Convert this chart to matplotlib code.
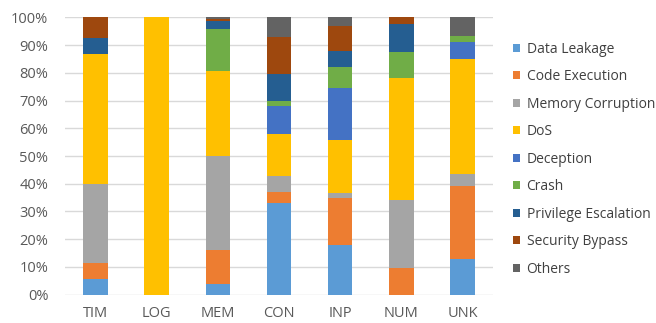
import matplotlib
matplotlib.use("Agg")
import matplotlib.pyplot as plt
from matplotlib.patches import Patch
import numpy as np

plt.rcParams['font.family'] = ['Open Sans', 'DejaVu Sans']

categories = ["TIM", "LOG", "MEM", "CON", "INP", "NUM", "UNK"]

data_leakage     = [5.5, 0.0, 4.0, 33.1, 17.8, 0.0, 13.0]
code_execution   = [5.8, 0.0, 12.2, 3.9, 17.2, 9.7, 26.2]
memory_corrupt   = [28.5, 0.0, 33.9, 5.7, 1.5, 24.4, 4.3]
dos              = [46.9, 100.0, 30.5, 15.1, 19.4, 44.0, 41.4]
deception        = [0.0, 0.0, 0.0, 10.1, 18.7, 0.0, 6.3]
crash            = [0.0, 0.0, 15.3, 1.9, 7.5, 9.5, 2.2]
priv_escalation  = [5.8, 0.0, 2.9, 9.9, 5.6, 10.0, 0.0]
security_bypass  = [7.5, 0.0, 0.6, 13.2, 9.2, 2.4, 0.0]
others           = [0.0, 0.0, 0.6, 7.1, 3.1, 0.0, 6.6]

series_names = ["Data Leakage", "Code Execution", "Memory Corruption", "DoS",
                "Deception", "Crash", "Privilege Escalation", "Security Bypass", "Others"]
series_values = [data_leakage, code_execution, memory_corrupt, dos, deception,
                 crash, priv_escalation, security_bypass, others]
colors = ["#5B9BD5", "#ED7D31", "#A5A5A5", "#FFC000", "#4472C4",
          "#70AD47", "#255E91", "#9E480E", "#636363"]

fig = plt.figure(figsize=(6.56, 3.23), dpi=100)
ax = fig.add_axes([0.0991, 0.0876, 0.6524, 0.8588])

x = np.arange(len(categories))
bottom = np.zeros(len(categories))
for name, vals, c in zip(series_names, series_values, colors):
    v = np.array(vals, dtype=float)
    ax.bar(x, v, bottom=bottom, width=0.40, color=c, label=name, zorder=3)
    bottom += v

ax.set_xlim(-0.5, len(categories) - 0.5)
ax.set_ylim(0, 100)
ax.set_yticks(np.arange(0, 101, 10))
ax.set_yticklabels([f"{t}%" for t in range(0, 101, 10)])
ax.set_xticks(x)
ax.set_xticklabels(categories)
ax.yaxis.grid(True, color="#D9D9D9", linewidth=1.0, zorder=0)
for s in ax.spines.values():
    s.set_visible(False)
ax.tick_params(axis="both", length=0, labelsize=10.5, colors="#595959")
ax.tick_params(axis="y", pad=12)
ax.tick_params(axis="x", pad=8)

handles = [Patch(facecolor=c, edgecolor="none") for c in colors]
leg = fig.legend(handles, series_names, loc="upper left",
                 bbox_to_anchor=(0.773, 0.888), frameon=False,
                 fontsize=10, handlelength=0.5, handleheight=0.5,
                 handletextpad=0.5, labelspacing=0.90, borderaxespad=0)
for t in leg.get_texts():
    t.set_color("#404040")

fig.savefig("out.png", dpi=100)
